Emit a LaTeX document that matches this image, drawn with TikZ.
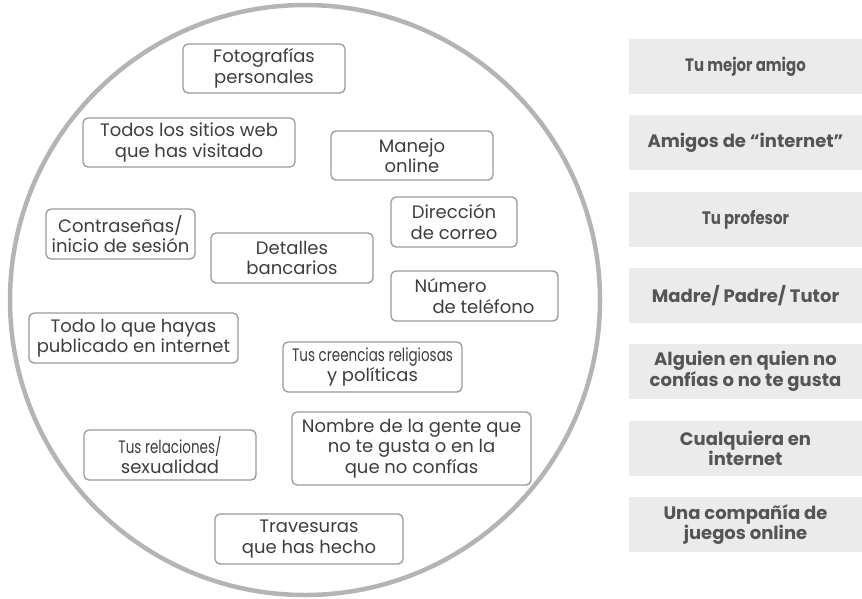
\documentclass[tikz,border=0pt]{standalone}
\usepackage{fontspec}
\setmainfont{Poppins}
\newfontfamily\condfont[FakeStretch=0.75]{Poppins}
\newfontfamily\condbold[FakeStretch=0.83]{Poppins}[BoldFont={* Bold}]
\definecolor{ringgray}{HTML}{B4B4B4}
\definecolor{boxline}{HTML}{9A9A9A}
\definecolor{boxtext}{HTML}{3E3E3E}
\definecolor{panel}{HTML}{EBEBEB}
\definecolor{paneltext}{HTML}{555555}
\tikzset{
  item/.style={draw=boxline, line width=1.3pt, rounded corners=5pt, fill=white,
    align=center, text=boxtext, font=\fontsize{18}{20.5}\selectfont, inner sep=0pt},
  panelbox/.style={fill=panel, minimum width=233pt, minimum height=55pt, inner sep=0pt,
    align=center, text=paneltext, font=\fontsize{18}{20.5}\selectfont\bfseries},
}
\begin{document}
\begin{tikzpicture}[x=1pt,y=-1pt]
\useasboundingbox (0,0) rectangle (862,598);
\node[circle, draw=ringgray, line width=4.5pt, minimum size=590pt, inner sep=0pt] (ring) at (305,300) {};

\node[item, minimum width=162pt, minimum height=49pt] (foto) at (264,68.5) {Fotografías\\personales};
\node[item, minimum width=212pt, minimum height=49pt] (sitios) at (189,142.5) {Todos los sitios web\\que has visitado};
\node[item, minimum width=162pt, minimum height=49pt] (manejo) at (412,155.5) {Manejo\\online};
\node[item, minimum width=126pt, minimum height=50pt] (dir) at (454,222) {Dirección\\de correo};
\node[item, minimum width=149pt, minimum height=50pt] (contra) at (120.5,234) {Contraseñas/\\inicio de sesión};
\node[item, minimum width=162pt, minimum height=50pt] (detalles) at (292,258) {Detalles\\bancarios};
\node[item, minimum width=167pt, minimum height=50pt, align=left] (numero) at (474.5,296) {Número\\\hspace*{18pt}de teléfono};
\node[item, minimum width=209pt, minimum height=50pt] (todo) at (133.5,338) {Todo lo que hayas\\publicado en internet};
\node[item, minimum width=179pt, minimum height=50pt] (creencias) at (372.5,367) {{\condfont Tus creencias religiosas}\\y políticas};
\node[item, minimum width=172pt, minimum height=50pt] (relaciones) at (170,455) {{\condfont Tus relaciones/}\\sexualidad};
\node[item, minimum width=239pt, minimum height=73pt] (nombre) at (411.5,448.5) {Nombre de la gente que\\no te gusta o en la\\que no confías};
\node[item, minimum width=188pt, minimum height=50pt] (travesuras) at (309,539) {Travesuras\\que has hecho};

\node[panelbox] (p1) at (745.5,66.5) {{\condbold\bfseries Tu mejor amigo}};
\node[panelbox] (p2) at (745.5,142.5) {Amigos de “internet”};
\node[panelbox] (p3) at (745.5,219.5) {{\condbold\bfseries Tu profesor}};
\node[panelbox] (p4) at (745.5,295.5) {Madre/ Padre/ Tutor};
\node[panelbox] (p5) at (745.5,371.5) {Alguien en quien no\\confías o no te gusta};
\node[panelbox] (p6) at (745.5,448.5) {Cualquiera en\\internet};
\node[panelbox] (p7) at (745.5,524.5) {Una compañía de\\juegos online};
\end{tikzpicture}
\end{document}
